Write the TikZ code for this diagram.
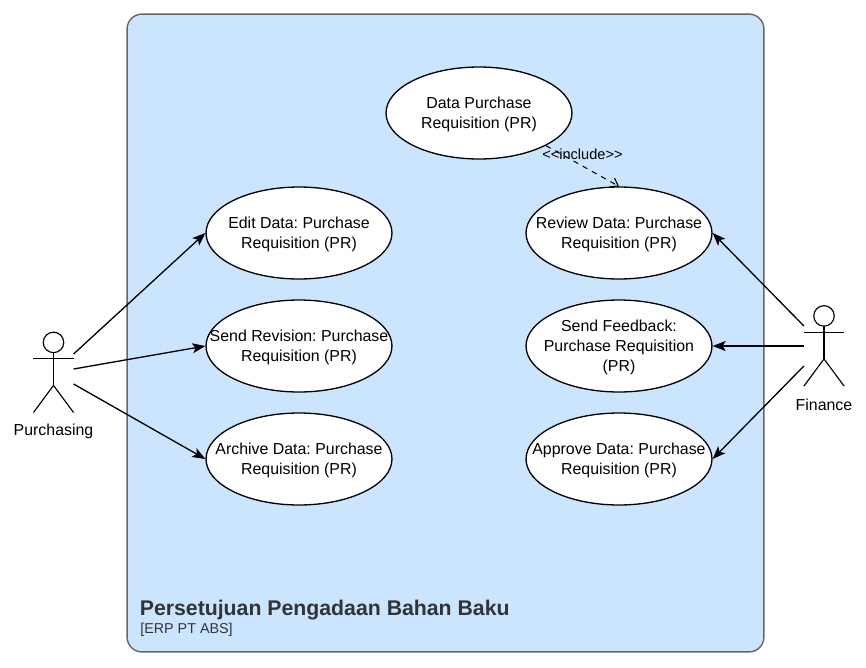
\documentclass[tikz,border=0pt]{standalone}
\usepackage{xcolor}
\usepackage{fontspec}
\setmainfont{Liberation Sans}
\usepackage{tikz}
\usetikzlibrary{shapes.geometric, arrows.meta, positioning, calc}
\definecolor{sysfill}{HTML}{CCE5FF}
\definecolor{sysline}{HTML}{666666}
\definecolor{systext}{HTML}{333333}
\tikzset{
    usecase/.style={ellipse, draw=black, fill=white, line width=0.75pt, minimum width=3.72cm, minimum height=1.84cm, inner sep=0pt},
    casetext/.style={inner sep=0pt, align=center, yshift=-0.03cm, font=\fontsize{9.05}{11.3}\selectfont\frenchspacing},
    actorbox/.style={minimum width=0.79cm, minimum height=1.59cm, inner sep=0pt},
    actorname/.style={font=\fontsize{9.05}{11.3}\selectfont, inner sep=0pt},
    flow/.style={-{Stealth[length=0.26cm, width=0.2cm, inset=0.06cm]}, line width=0.75pt},
    incl/.style={-{Straight Barb[length=0.14cm, width=0.2cm]}, dashed, line width=0.6pt}
}
\newcommand{\stickman}[1]{
    \draw[line width=0.65pt] ($(#1.north)+(0,10)$) circle (0.205cm);
    \draw[line width=0.65pt] ($(#1.north)+(0,20.5)$) -- ($(#1.north)+(0,53)$);
    \draw[line width=0.65pt] ($(#1.north west)+(0,26.5)$) -- ($(#1.north east)+(0,26.5)$);
    \draw[line width=0.65pt] (#1.south west) -- ($(#1.north)+(0,53)$) -- (#1.south east);
}

\begin{document}
\begin{tikzpicture}[x=0.02cm, y=-0.02cm]
    \useasboundingbox (0,0) rectangle (866,667);

    % system boundary
    \node[draw=sysline, fill=sysfill, line width=0.8pt, rounded corners=0.3cm, minimum width=12.74cm, minimum height=12.76cm, inner sep=0pt] (system) at (445.5,333) {};
    \node[anchor=base west, inner sep=0pt, text=systext, font=\fontsize{12.1}{14}\selectfont\bfseries] (systitle) at (139.5,615) {Persetujuan Pengadaan Bahan Baku};
    \node[anchor=base west, inner sep=0pt, text=systext, font=\fontsize{8.15}{10}\selectfont] (syssub) at (140,633) {[ERP PT ABS]};

    % use cases
    \node[usecase] (data) at (479,113) {};
    \node[usecase] (edit) at (299,233) {};
    \node[usecase] (revision) at (299,346) {};
    \node[usecase] (archive) at (299,459) {};
    \node[usecase] (review) at (619,233) {};
    \node[usecase] (feedback) at (619,346) {};
    \node[usecase] (approve) at (619,459) {};
    \node[casetext] (datatext) at (data) {Data Purchase\\Requisition (PR)};
    \node[casetext] (edittext) at (edit) {Edit Data: Purchase\\Requisition (PR)};
    \node[casetext] (revisiontext) at (revision) {Send Revision: Purchase\\Requisition (PR)};
    \node[casetext] (archivetext) at (archive) {Archive Data: Purchase\\Requisition (PR)};
    \node[casetext] (reviewtext) at (review) {Review Data: Purchase\\Requisition (PR)};
    \node[casetext] (feedbacktext) at (feedback) {Send Feedback:\\Purchase Requisition\\(PR)};
    \node[casetext] (approvetext) at (approve) {Approve Data: Purchase\\Requisition (PR)};

    % actors
    \node[actorbox] (purchasing) at (53.5,372.5) {};
    \node[actorbox] (finance) at (824,346) {};
    \stickman{purchasing}
    \stickman{finance}
    \node[actorname, below=0.23cm of purchasing] (purchasingname) {Purchasing};
    \node[actorname, below=0.26cm of finance] (financename) {Finance};

    % connectors
    \draw[flow] ([yshift=0.37cm]purchasing.east) -- (edit.west);
    \draw[flow] ([yshift=0.07cm]purchasing.east) -- (revision.west);
    \draw[flow] ([yshift=-0.23cm]purchasing.east) -- (archive.west);
    \draw[flow] ([yshift=0.4cm]finance.west) -- (review.east);
    \draw[flow] (finance.west) -- (feedback.east);
    \draw[flow] ([yshift=-0.4cm]finance.west) -- (approve.east);
    \draw[incl] (data.-26) -- (review.north) node[pos=0.5, yshift=0.24cm, font=\fontsize{8.3}{9}\selectfont, inner sep=0pt] (includelabel) {<{}<include>{}>};
\end{tikzpicture}
\end{document}
